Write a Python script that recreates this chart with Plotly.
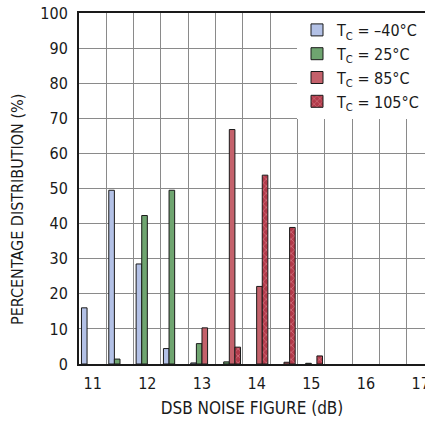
import plotly.graph_objects as go

# noise figure bins (dB) and percentage distribution per case temperature
nf_bins = [11, 11.5, 12, 12.5, 13, 13.5, 14, 14.5, 15, 15.5, 16, 16.5, 17]
pct_m40 = [16, 49.5, 28.5, 4.4, 0.3, None, None, None, None, None, None, None, None]
pct_25 = [None, 1.4, 42.3, 49.5, 5.8, 0.6, None, None, 0.2, None, None, None, None]
pct_85 = [None, None, None, None, 10.3, 66.8, 22.1, 0.5, None, None, None, None, None]
pct_105 = [None, None, None, None, None, 4.8, 53.8, 38.9, 2.3, None, None, None, None]

x_ticks = [11, 12, 13, 14, 15, 16, 17]
y_ticks = [0, 10, 20, 30, 40, 50, 60, 70, 80, 90, 100]

FONT = "DejaVu Sans Condensed, Liberation Sans Narrow, sans-serif"

fig = go.Figure()

outline = dict(color="#1a1a1a", width=1)

fig.add_trace(go.Bar(x=nf_bins, y=pct_m40, name="T<sub>C</sub> = –40°C",
                     marker=dict(color="#b3c1e6", line=outline)))
fig.add_trace(go.Bar(x=nf_bins, y=pct_25, name="T<sub>C</sub> = 25°C",
                     marker=dict(color="#6fa570", line=outline)))
fig.add_trace(go.Bar(x=nf_bins, y=pct_85, name="T<sub>C</sub> = 85°C",
                     marker=dict(color="#c4616b", line=outline)))
fig.add_trace(go.Bar(x=nf_bins, y=pct_105, name="T<sub>C</sub> = 105°C",
                     marker=dict(color="#b23a4a", line=outline,
                                 pattern=dict(shape="x", fgcolor="#e9a3ab",
                                              bgcolor="#b23a4a", size=5, solidity=0.3))))

fig.update_layout(
    width=425, height=426,
    margin=dict(l=79, r=0, t=13, b=62),
    paper_bgcolor="white", plot_bgcolor="white",
    font=dict(family=FONT, size=15, color="#1a1a1a"),
    barmode="group", bargap=0.18, bargroupgap=0,
    showlegend=True,
    legend=dict(x=1, xanchor="right", y=1, yanchor="top",
                bgcolor="white", borderwidth=0,
                font=dict(family=FONT, size=16),
                tracegroupgap=0, itemwidth=30),
    xaxis=dict(
        range=[10.75, 17.08], automargin=False,
        tickmode="array", tickvals=x_ticks, ticktext=[str(t) for t in x_ticks],
        ticklabeloverflow="allow",
        showgrid=False, zeroline=False,
        showline=True, linecolor="#1a1a1a", linewidth=2, mirror=True,
        ticks="outside", ticklen=4, tickcolor="rgba(0,0,0,0)",
        minor=dict(tick0=10.75, dtick=0.5, showgrid=True,
                   gridcolor="#8a8a8a", gridwidth=1, ticks=""),
        title=dict(text="DSB NOISE FIGURE (dB)", standoff=10,
                   font=dict(family=FONT, size=17)),
        tickfont=dict(family=FONT, size=16),
    ),
    yaxis=dict(
        range=[0, 100], automargin=False,
        tickmode="array", tickvals=y_ticks,
        showgrid=True, gridcolor="#8a8a8a", gridwidth=1,
        zeroline=False,
        showline=True, linecolor="#1a1a1a", linewidth=2,
        ticks="outside", ticklen=6, tickcolor="rgba(0,0,0,0)",
        tickfont=dict(family=FONT, size=16),
    ),
    annotations=[dict(
        text="PERCENTAGE DISTRIBUTION (%)", textangle=-90,
        xref="paper", yref="paper", x=-0.176, y=0.439,
        xanchor="center", yanchor="middle", showarrow=False,
        font=dict(family=FONT, size=16),
    )],
)

# drop the default body margin so the 425x426 figure fills the window exactly
fig.write_html("out.html",
               config={"displayModeBar": False},
               post_script="document.body.style.margin='0';"
                           "document.body.style.overflow='hidden';"
                           "document.documentElement.style.overflow='hidden';")
